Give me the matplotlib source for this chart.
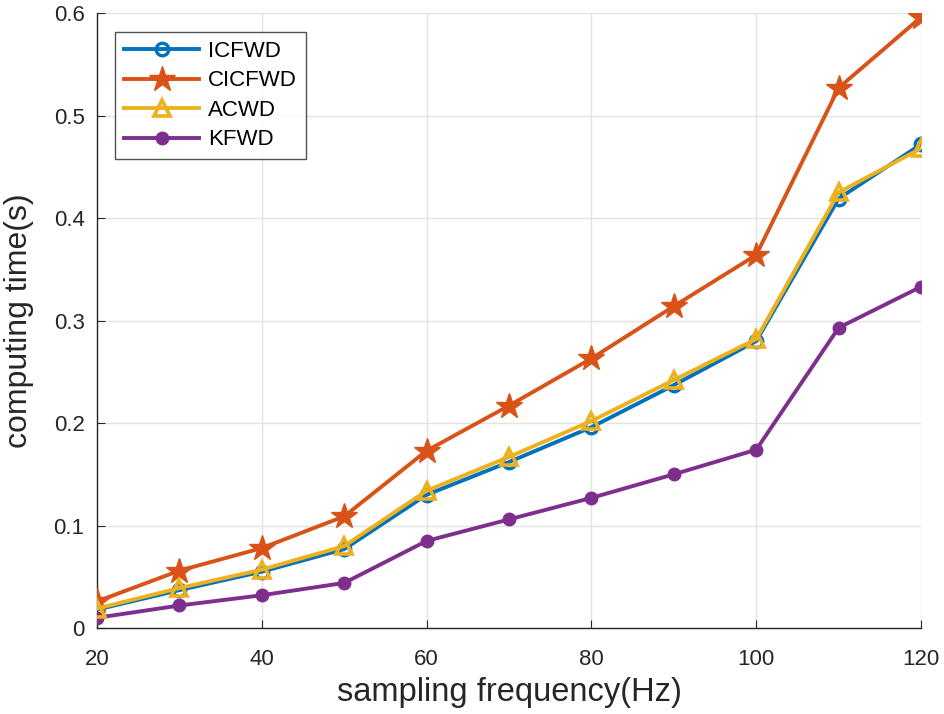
import matplotlib
matplotlib.use("Agg")
import matplotlib.pyplot as plt

freq = [20, 30, 40, 50, 60, 70, 80, 90, 100, 110, 120]
icfwd = [0.018, 0.037, 0.055, 0.077, 0.130, 0.162, 0.196, 0.237, 0.280, 0.419, 0.472]
cicfwd = [0.026, 0.056, 0.078, 0.109, 0.173, 0.217, 0.263, 0.314, 0.364, 0.527, 0.596]
acwd = [0.019, 0.039, 0.057, 0.080, 0.134, 0.167, 0.202, 0.242, 0.282, 0.425, 0.468]
kfwd = [0.010, 0.022, 0.032, 0.044, 0.085, 0.106, 0.127, 0.150, 0.174, 0.293, 0.333]
xticks = [20, 40, 60, 80, 100, 120]
yticks = [0, 0.1, 0.2, 0.3, 0.4, 0.5, 0.6]
ytick_labels = ["0", "0.1", "0.2", "0.3", "0.4", "0.5", "0.6"]

plt.rcParams['font.family'] = ['Liberation Sans', 'DejaVu Sans']

fig = plt.figure(figsize=(9.44, 7.14), dpi=100)
ax = fig.add_axes([0.1028, 0.1204, 0.8729, 0.8613])

ax.plot(freq, icfwd, color='#0072BD', lw=2.8, marker='o', ms=9, mfc='none', mew=2.4, label='ICFWD', zorder=3)
ax.plot(freq, cicfwd, color='#D95319', lw=2.8, marker='*', ms=19, label='CICFWD', zorder=3)
ax.plot(freq, acwd, color='#EDB120', lw=2.8, marker='^', ms=12, mfc='none', mew=2.6, label='ACWD', zorder=4)
ax.plot(freq, kfwd, color='#7E2F8E', lw=2.8, marker='o', ms=9, label='KFWD', zorder=3)

ax.set_xlim(20, 120)
ax.set_ylim(0, 0.6)
ax.set_xticks(xticks)
ax.set_yticks(yticks)
ax.set_yticklabels(ytick_labels)
ax.grid(True, color='#e2e2e2', lw=1)
ax.set_axisbelow(True)
for s in ['top', 'right']:
    ax.spines[s].set_visible(False)
for s in ['left', 'bottom']:
    ax.spines[s].set_color('#262626')
    ax.spines[s].set_linewidth(1.0)
ax.tick_params(direction='in', length=6, labelsize=16, colors='#262626')
ax.tick_params(axis='x', pad=15)
ax.tick_params(axis='y', pad=9)
ax.set_xlabel('sampling frequency(Hz)', fontsize=23.5, color='#262626', labelpad=5)
ax.set_ylabel('computing time(s)', fontsize=23, color='#262626')
ax.yaxis.set_label_coords(-0.076, 0.5)

leg = ax.legend(loc='upper left', bbox_to_anchor=(0.0218, 0.969), borderaxespad=0,
                fontsize=16, frameon=True, fancybox=False, edgecolor='#262626',
                handlelength=3.4, borderpad=0.4, labelspacing=0.38, handletextpad=0.4)
leg.get_frame().set_linewidth(1.0)

fig.savefig('out.png', dpi=100)
